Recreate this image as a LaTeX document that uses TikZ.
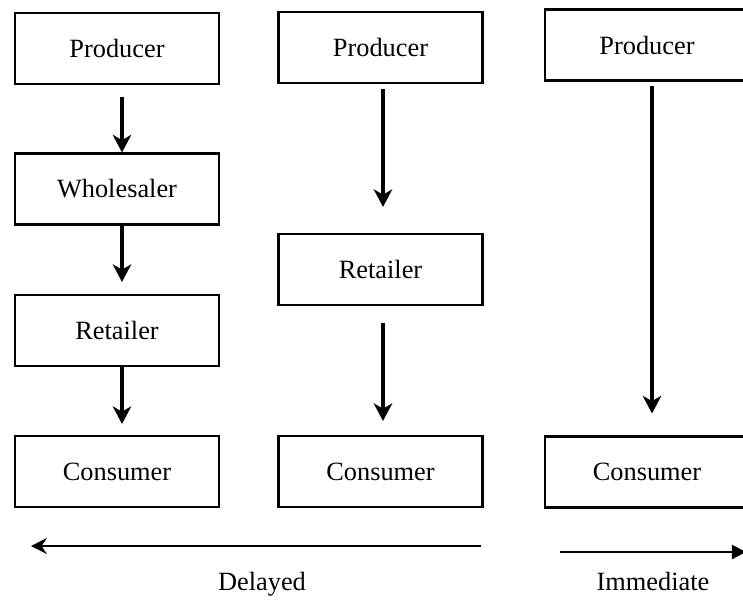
\documentclass[tikz,border=0pt]{standalone}
\usepackage{fontspec}
\setmainfont{Liberation Serif}
\usetikzlibrary{arrows.meta}

\tikzset{
  box/.style={draw, line width=1.2pt, minimum width=4.08cm, minimum height=1.42cm,
    inner sep=0pt, font=\fontsize{15}{18}\selectfont},
  flow/.style={line width=2pt, -{Stealth[length=10pt, width=10.5pt, inset=3pt]}},
  label/.style={anchor=base, font=\fontsize{15}{18}\selectfont}
}

\begin{document}
\begin{tikzpicture}[x=0.02cm, y=-0.02cm]
  \useasboundingbox (0,0) rectangle (743,599);
  \clip (0,0) rectangle (743,599);

  % producer - wholesaler - retailer - consumer
  \node[box] (prodA) at (117,48.5) {Producer};
  \node[box] (wholA) at (117,189) {Wholesaler};
  \node[box] (retA) at (117,330.5) {Retailer};
  \node[box] (consA) at (117,471.5) {Consumer};

  % producer - retailer - consumer
  \node[box] (prodB) at (380.5,47.5) {Producer};
  \node[box] (retB) at (380.5,269.5) {Retailer};
  \node[box] (consB) at (380.5,471.5) {Consumer};

  % producer - consumer
  \node[box] (prodC) at (647,45) {Producer};
  \node[box] (consC) at (647,472) {Consumer};

  \draw[flow] ([shift={(5,12)}]prodA.south) -- ([shift={(5,0)}]wholA.north);
  \draw[flow] ([shift={(5,0)}]wholA.south) -- ([shift={(5,-12)}]retA.north);
  \draw[flow] ([shift={(5,0)}]retA.south) -- ([shift={(5,-11)}]consA.north);

  \draw[flow] ([shift={(2.5,5)}]prodB.south) -- ([shift={(2.5,-26)}]retB.north);
  \draw[flow] ([shift={(2.5,17)}]retB.south) -- ([shift={(2.5,-14)}]consB.north);

  \draw[flow] ([shift={(5,4)}]prodC.south) -- ([shift={(5,-22)}]consC.north);

  % time axis
  \coordinate (dstart) at (481,546);
  \coordinate (dend) at (31,546);
  \coordinate (istart) at (560,552);
  \coordinate (iend) at (746,552);
  \draw[line width=1.2pt, -{Stealth[length=9pt, width=9pt, inset=3pt]}] (dstart) -- (dend);
  \draw[line width=1.2pt, -{Triangle[length=8pt, width=8pt]}] (istart) -- (iend);
  \node[label] (delayed) at (262,590) {Delayed};
  \node[label] (immediate) at (653,590) {Immediate};
\end{tikzpicture}
\end{document}
